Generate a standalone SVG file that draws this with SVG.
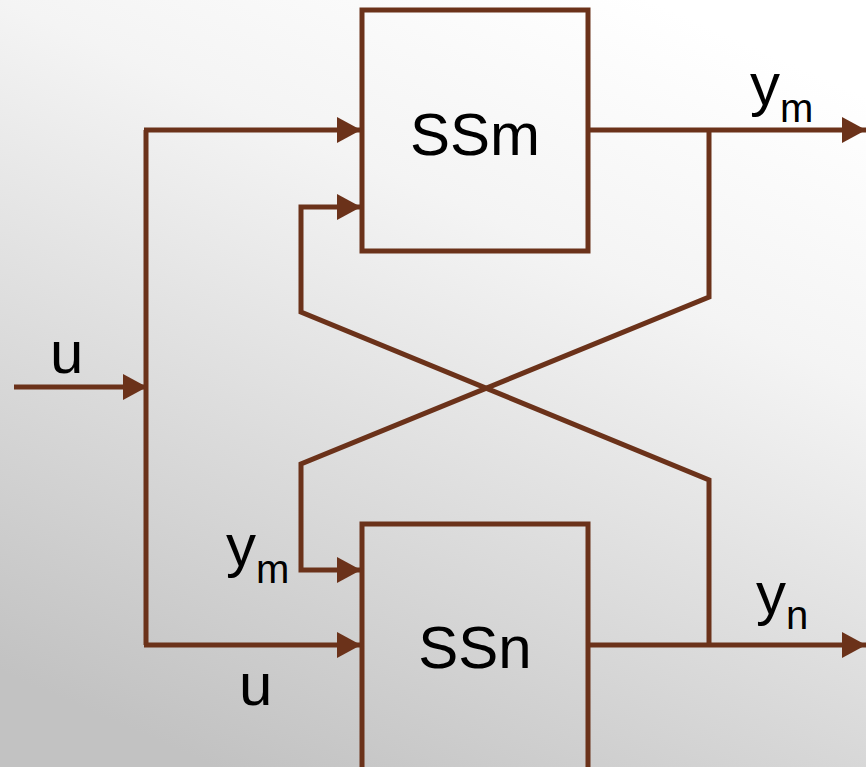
<svg xmlns="http://www.w3.org/2000/svg" width="866" height="767" viewBox="0 0 866 767">
<defs>
<linearGradient id="bg" x1="0.75" y1="0" x2="0.25" y2="1">
<stop offset="0" stop-color="#ffffff"/>
<stop offset="0.3" stop-color="#f4f4f4"/>
<stop offset="1" stop-color="#c2c2c2"/>
</linearGradient>
<marker id="ah" markerWidth="24" markerHeight="26" refX="24" refY="13" orient="auto" markerUnits="userSpaceOnUse">
<path d="M0,0 L24,13 L0,26 Z" fill="#6b321a"/>
</marker>
<style>
.ln{fill:none;stroke:#6b321a;stroke-width:5}
.box{fill:none;stroke:#6b321a;stroke-width:5}
.t{font-family:"Liberation Sans",Arial,sans-serif;fill:#000}
</style>
</defs>
<rect width="866" height="767" fill="url(#bg)"/>
<g id="SSm">
<rect class="box" x="362" y="10" width="226" height="241"/>
<text class="t" x="475" y="155" font-size="60" text-anchor="middle">SSm</text>
</g>
<g id="SSn">
<rect class="box" x="362" y="524" width="226" height="260"/>
<text class="t" x="475" y="668" font-size="60" text-anchor="middle">SSn</text>
</g>
<g id="connectors">
<path class="ln" d="M14,387 H147" marker-end="url(#ah)"/>
<path class="ln" d="M146,645 V130"/>
<path class="ln" d="M144,130 H361" marker-end="url(#ah)"/>
<path class="ln" d="M144,645 H361" marker-end="url(#ah)"/>
<path class="ln" d="M588,130 H866" marker-end="url(#ah)"/>
<path class="ln" d="M588,645 H866" marker-end="url(#ah)"/>
<path class="ln" d="M709,130 V297 L301,464 V570 H361" marker-end="url(#ah)"/>
<path class="ln" d="M361,207 H301 V312 L709,480 V645"/>
<path d="M337,194 L361,207 L337,220 Z" fill="#6b321a"/>
</g>
<g id="labels">
<text class="t" x="750" y="105" font-size="60">y<tspan font-size="40" dy="17">m</tspan></text>
<text class="t" x="50" y="373" font-size="60">u</text>
<text class="t" x="226" y="566" font-size="60">y<tspan font-size="40" dy="17">m</tspan></text>
<text class="t" x="239" y="705" font-size="60">u</text>
<text class="t" x="756" y="614" font-size="60">y<tspan font-size="40" dy="15">n</tspan></text>
</g>
</svg>
